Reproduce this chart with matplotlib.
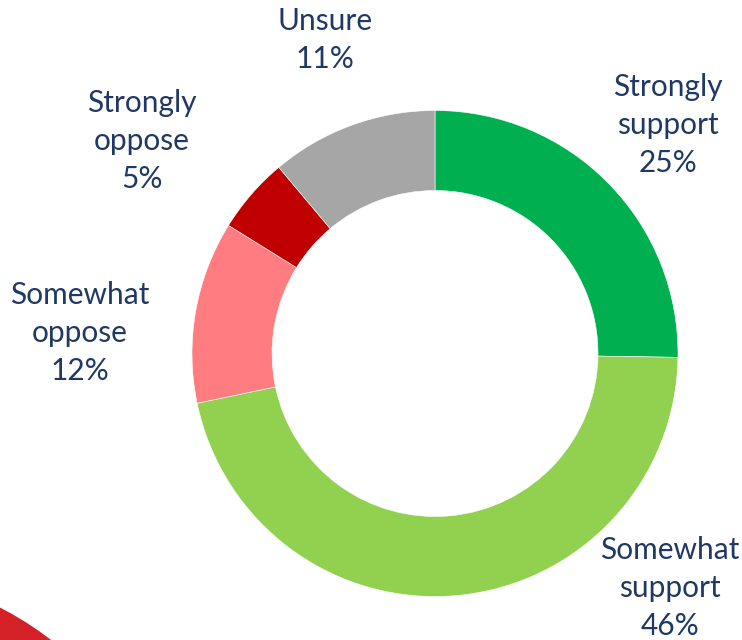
import matplotlib.pyplot as plt
from matplotlib.patches import Circle

plt.rcParams['font.family'] = ['Lato', 'DejaVu Sans']

# survey answers, clockwise from 12 o'clock
labels = ["Strongly\nsupport", "Somewhat\nsupport", "Somewhat\noppose", "Strongly\noppose", "Unsure"]
shares = [25, 46, 12, 5, 11]
colors = ["#00B050", "#92D050", "#FF7C80", "#C00000", "#A6A6A6"]

# label centres in pixels (x, y from top)
label_pos = [(668, 125), (670, 588), (80, 333), (142, 141), (325, 40)]

W, H = 742, 640
fig = plt.figure(figsize=(W / 100, H / 100), dpi=100)
ax = fig.add_axes([0, 0, 1, 1])

ax.pie(shares, colors=colors, startangle=90, counterclock=False,
       center=(435, H - 353.5), radius=243,
       wedgeprops=dict(width=80, edgecolor="white", linewidth=0.4))

# corner decoration
ax.add_patch(Circle((-150, H - 900), 328, color="#D42027", zorder=0))

for lab, val, (x, y) in zip(labels, shares, label_pos):
    ax.text(x, H - y, "{}\n{}%".format(lab, val), ha="center", va="center",
            fontsize=21.5, color="#1F3864", linespacing=1.45)

ax.set_xlim(0, W)
ax.set_ylim(0, H)
ax.set_aspect("equal")
ax.axis("off")

fig.savefig("out.png", dpi=100)
